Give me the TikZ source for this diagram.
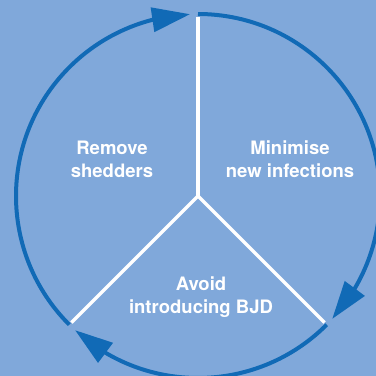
\documentclass[tikz,border=0pt]{standalone}
\usepackage{fontspec}
\setsansfont{TeX Gyre Heros}
\usetikzlibrary{arrows.meta,bending}
\definecolor{grundblau}{RGB}{128,168,218}
\definecolor{kreisblau}{RGB}{17,106,182}
\begin{document}
\begin{tikzpicture}[x=1pt,y=1pt,
      bogen/.style={line width=4pt,draw=kreisblau,
        -{Triangle[length=38pt,width=24pt]}},
      strahl/.style={line width=3.5pt,draw=white},
      etikett/.style={text=white,align=center,
        font=\sffamily\bfseries\fontsize{18.5}{23}\selectfont}
    ]
    \fill[grundblau] (0,0) rectangle (376,376);
    \clip (0,0) rectangle (376,376);
    \path (198,180) coordinate(m)
    (m) ++(90:179) coordinate(so)
    (m) ++(225:179) coordinate(sl)
    (m) ++(-45:179) coordinate(sr)
    (m) ++(90:182) coordinate(ko)
    (m) ++(225:182) coordinate(kl)
    (m) ++(-45:182) coordinate(kr);
    \draw[strahl] (m) -- (so);
    \draw[strahl] (m) -- (sl);
    \draw[strahl] (m) -- (sr);
    \draw[bogen] (kl) arc[start angle=225, end angle=92.5, radius=182];
    \draw[bogen] (ko) arc[start angle=90, end angle=-42.5, radius=182];
    \draw[bogen] (kr) arc[start angle=-45, end angle=-132.5, radius=182];
    \path (112,216.5) node(a) [etikett] {Remove\\shedders}
    (290,216.5) node(b) [etikett] {Minimise\\new infections}
    (201,79) node(c) [etikett] {Avoid\\introducing BJD};
  \end{tikzpicture}
\end{document}
